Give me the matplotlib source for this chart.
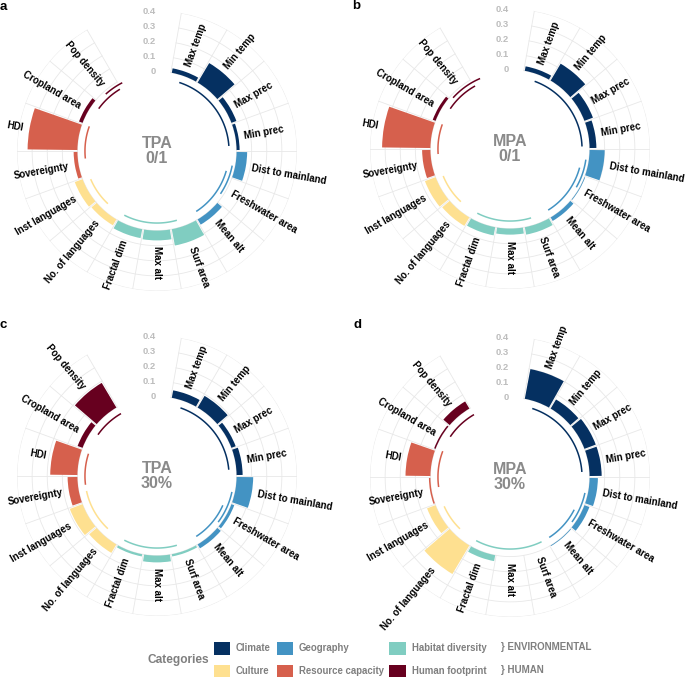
import numpy as np
import matplotlib.pyplot as plt
from matplotlib.patches import Patch

plt.rcParams['font.family'] = ['Liberation Sans', 'DejaVu Sans']
plt.rcParams['font.weight'] = 'bold'

variables = ["Max temp", "Min temp", "Max prec", "Min prec", "Dist to mainland",
             "Freshwater area", "Mean alt", "Surf area", "Max alt", "Fractal dim",
             "No. of languages", "Inst languages", "Sovereignty", "HDI",
             "Cropland area", "Pop density"]
var_category = (["Climate"] * 4 + ["Geography"] * 3 + ["Habitat diversity"] * 3
                + ["Culture"] * 2 + ["Resource capacity"] * 2 + ["Human footprint"] * 2)

category_colors = {
    "Climate": "#053061",
    "Geography": "#4393C3",
    "Habitat diversity": "#80CDC1",
    "Culture": "#FEE090",
    "Resource capacity": "#D6604D",
    "Human footprint": "#67001F",
}

# relative importance
tpa_01 = [0.03, 0.15, 0.035, 0.02, 0.07, 0.0, 0.04, 0.11, 0.065, 0.06,
          0.045, 0.055, 0.025, 0.33, 0.025, 0.0]
mpa_01 = [0.03, 0.13, 0.06, 0.045, 0.1, 0.005, 0.027, 0.05, 0.04, 0.055,
          0.065, 0.075, 0.055, 0.32, 0.02, 0.0]
tpa_30 = [0.05, 0.09, 0.03, 0.04, 0.11, 0.02, 0.03, 0.015, 0.045, 0.015,
          0.065, 0.09, 0.065, 0.18, 0.035, 0.19]
mpa_30 = [0.2, 0.07, 0.08, 0.08, 0.055, 0.035, 0.005, 0.0, 0.0, 0.04,
          0.22, 0.06, 0.01, 0.165, 0.01, 0.055]

# inner group arcs: (category, radius, start deg, end deg)
arcs_a = [("Climate", -0.05, 18, 86), ("Geography", -0.02, 101, 124),
          ("Geography", -0.05, 106, 147), ("Habitat diversity", -0.05, 164, 207),
          ("Culture", -0.05, 223, 247), ("Resource capacity", -0.05, 264, 290),
          ("Human footprint", -0.02, 318, 333), ("Human footprint", -0.05, 306, 329)]
arcs_b = [("Climate", -0.05, 20, 88), ("Geography", -0.02, 98, 120),
          ("Geography", -0.05, 105, 148), ("Habitat diversity", -0.05, 163, 207),
          ("Culture", -0.05, 223, 248), ("Resource capacity", -0.05, 266, 290),
          ("Human footprint", -0.02, 312, 337), ("Human footprint", -0.05, 304, 331)]
arcs_c = [("Climate", -0.05, 19, 85), ("Geography", -0.02, 102, 127),
          ("Geography", -0.05, 114, 147), ("Habitat diversity", -0.05, 164, 207),
          ("Culture", -0.05, 223, 258), ("Resource capacity", -0.05, 263, 288),
          ("Human footprint", -0.05, 305, 330)]
arcs_d = [("Climate", -0.05, 18, 86), ("Geography", -0.02, 102, 126),
          ("Geography", -0.05, 117, 147), ("Habitat diversity", -0.05, 154, 208),
          ("Culture", -0.05, 224, 246), ("Resource capacity", -0.05, 262, 291),
          ("Human footprint", -0.05, 304, 330)]

panels = [
    ("a", "TPA\n0/1", tpa_01, arcs_a, (157, 151)),
    ("b", "MPA\n0/1", mpa_01, arcs_b, (510, 149)),
    ("c", "TPA\n30%", tpa_30, arcs_c, (157, 476)),
    ("d", "MPA\n30%", mpa_30, arcs_d, (510, 477)),
]
letter_pos = {"a": (3, 7), "b": (356, 6), "c": (3, 325), "d": (357, 325)}

W, H = 685, 678
R_PX = 140
R_MIN = -0.527
ticks = [0, 0.1, 0.2, 0.3, 0.4]
slot = 20  # degrees per variable, two empty slots form the top gap

fig = plt.figure(figsize=(W / 100, H / 100), dpi=100)

for letter, title, values, arcs, (cx, cy) in panels:
    ax = fig.add_axes([(cx - R_PX) / W, (H - cy - R_PX) / H, 2 * R_PX / W, 2 * R_PX / H],
                      projection="polar")
    ax.set_theta_zero_location("N")
    ax.set_theta_direction(-1)
    ax.set_ylim(R_MIN, 0.4)
    ax.axis("off")

    theta_deg = slot * (np.arange(len(variables)) + 1)
    theta = np.deg2rad(theta_deg)
    first, last = theta_deg[0] - slot / 2, theta_deg[-1] + slot / 2

    # grid
    tt = np.deg2rad(np.linspace(first, last, 200))
    for t in ticks:
        ax.plot(tt, np.full_like(tt, t), color="#e8e8e8", lw=0.6, zorder=0)
    for b in np.arange(first, last + 1, slot):
        ax.plot([np.deg2rad(b)] * 2, [0, 0.4], color="#e8e8e8", lw=0.6, zorder=0)
    for t in ticks:
        ax.text(np.deg2rad(-0.5), t, f"{t:g}", ha="right", va="center",
                fontsize=6.8, color="#bdbdbd")

    colors = [category_colors[c] for c in var_category]
    ax.bar(theta, values, width=np.deg2rad(slot) * 0.93, bottom=0, color=colors,
           edgecolor="none", zorder=2)

    for cat, r, a0, a1 in arcs:
        at = np.deg2rad(np.linspace(a0, a1, 60))
        ax.plot(at, np.full_like(at, r), color=category_colors[cat], lw=1.1,
                solid_capstyle="butt", zorder=2)

    for name, td, v in zip(variables, theta_deg, values):
        if td <= 180:
            rot, ha = 90 - td, "left"
        else:
            rot, ha = 270 - td, "right"
        ax.text(np.deg2rad(td), v + 0.04, name, rotation=rot, ha=ha, va="center",
                rotation_mode="anchor", fontsize=7.0, color="black", clip_on=False)

    ax.text(0, R_MIN, title, ha="center", va="center", fontsize=11.5,
            color="#8a8a8a", linespacing=1.0)

    lx, ly = letter_pos[letter]
    fig.text(lx / W, 1 - ly / H, letter, fontsize=9.5, color="black",
             ha="center", va="center")

# legend
order = ["Climate", "Culture", "Geography", "Resource capacity",
         "Habitat diversity", "Human footprint"]
handles = [Patch(facecolor=category_colors[c], edgecolor="none", label=c) for c in order]
leg = fig.legend(handles=handles, loc="upper left", bbox_to_anchor=(214 / W, 1 - 642 / H),
                 ncol=3, frameon=False, fontsize=6.9, handlelength=1.7,
                 handleheight=1.65, handletextpad=0.6, columnspacing=0.6,
                 labelspacing=1.05, borderpad=0, borderaxespad=0)
for txt in leg.get_texts():
    txt.set_color("#7f7f7f")
fig.text(148 / W, 1 - 660 / H, "Categories", fontsize=8.6, color="#7f7f7f",
         ha="left", va="center")
fig.text(501 / W, 1 - 647 / H, "} ENVIRONMENTAL", fontsize=7.0, color="#7f7f7f",
         ha="left", va="center")
fig.text(501 / W, 1 - 670 / H, "} HUMAN", fontsize=7.0, color="#7f7f7f",
         ha="left", va="center")

fig.savefig("out.png", dpi=100)
